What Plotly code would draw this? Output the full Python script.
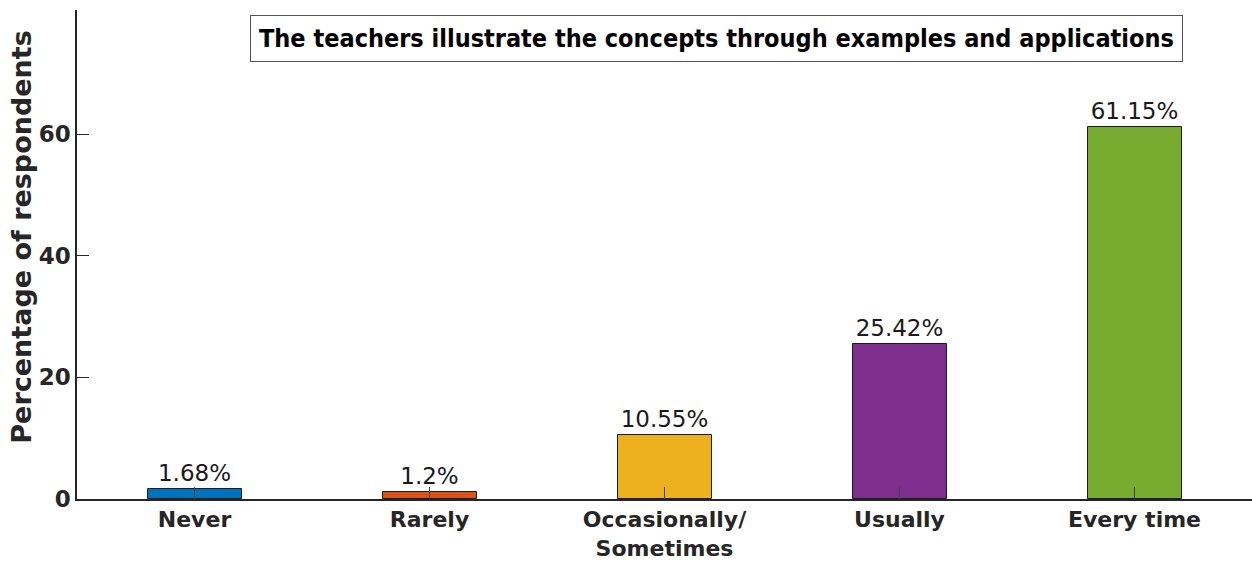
import plotly.graph_objects as go

categories = ["Never", "Rarely", "Occasionally/<br>Sometimes", "Usually", "Every time"]
values = [1.68, 1.2, 10.55, 25.42, 61.15]
value_labels = ["1.68%", "1.2%", "10.55%", "25.42%", "61.15%"]
colors = ["#0072BD", "#D95319", "#EDB120", "#7E2F8E", "#77AC30"]
title_text = "The teachers illustrate the concepts through examples and applications"
y_title = "Percentage of respondents"
y_ticks = [0, 20, 40, 60]

xpos = list(range(1, len(categories) + 1))

fig = go.Figure()
fig.add_trace(go.Bar(
    x=xpos, y=values, width=0.4,
    marker=dict(color=colors, line=dict(color="#1a1a1a", width=1)),
    text=value_labels, textposition="outside", cliponaxis=False,
    textfont=dict(family="DejaVu Sans", size=23, color="#1a1a1a"),
))

fig.update_layout(
    width=1252, height=561,
    margin=dict(l=77, r=0, t=10, b=62),
    plot_bgcolor="white", paper_bgcolor="white",
    showlegend=False, bargap=0,
    uniformtext=dict(minsize=23, mode="show"),
    xaxis=dict(
        range=[0.5, 5.5], tickmode="array", tickvals=xpos, ticktext=categories,
        ticks="inside", ticklen=12, tickcolor="#444", showline=True, linecolor="#262626",
        linewidth=1.5, showgrid=False, zeroline=False, automargin=False,
        ticklabelstandoff=0,
        tickfont=dict(family="DejaVu Sans", size=22, color="#262626", weight="bold"),
    ),
    yaxis=dict(
        range=[0, 80.4], tickmode="array", tickvals=y_ticks,
        ticks="inside", ticklen=12, tickcolor="#262626", showline=True, linecolor="#262626",
        linewidth=1.5, showgrid=False, zeroline=False, automargin=False,
        tickfont=dict(family="DejaVu Sans", size=23, color="#262626", weight="bold"),
    ),
    annotations=[
        dict(
            text="<b>" + title_text + "</b>", xref="paper", yref="paper",
            x=0.544, y=0.99, xanchor="center", yanchor="top", showarrow=False,
            font=dict(family="DejaVu Sans Condensed", size=25, color="black"),
            bordercolor="#555", borderwidth=1, borderpad=8, bgcolor="white",
        ),
        dict(
            text="<b>" + y_title + "</b>", xref="paper", yref="paper",
            x=-0.047, y=0.536, xanchor="center", yanchor="middle", showarrow=False,
            textangle=-90,
            font=dict(family="DejaVu Sans", size=27, color="#262626"),
        ),
    ],
)

fig.write_html("out.html", config={"displayModeBar": False},
               post_script="document.body.style.margin='0';")
